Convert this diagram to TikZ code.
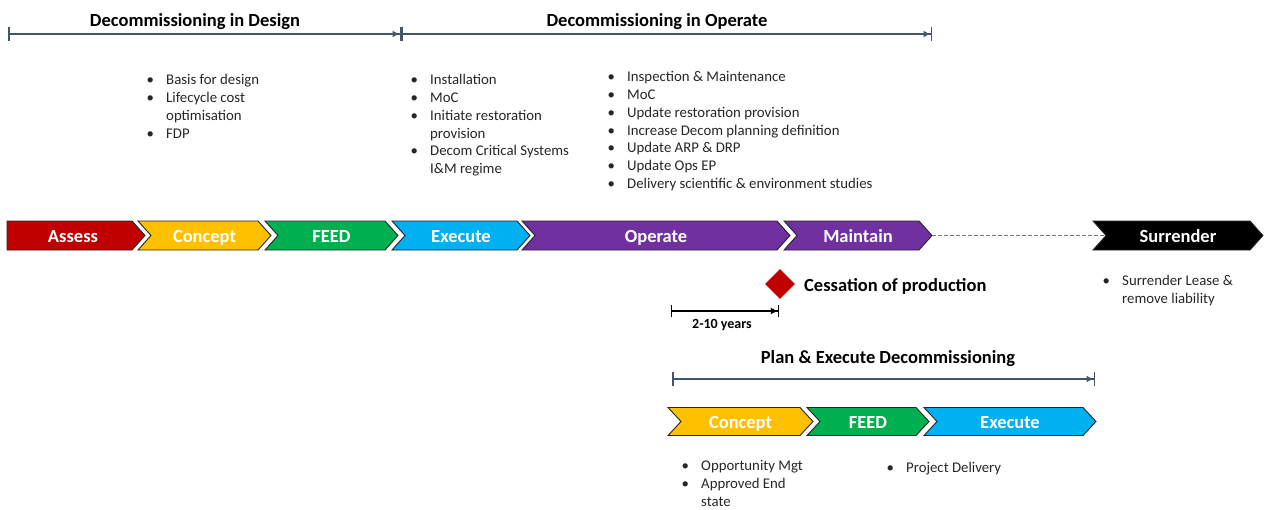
\documentclass[tikz,border=0pt]{standalone}
\usepackage{fontspec}
\setmainfont{Carlito}
\usetikzlibrary{arrows.meta,shapes.geometric}
\definecolor{cred}{HTML}{C00000}
\definecolor{cyel}{HTML}{FFC000}
\definecolor{cgrn}{HTML}{00B050}
\definecolor{cblu}{HTML}{00B0F0}
\definecolor{cpur}{HTML}{7030A0}
\definecolor{slate}{HTML}{44546A}
\definecolor{txt}{HTML}{262626}
\tikzset{
  chevtext/.style={anchor=base, inner sep=0pt, text=white, font=\fontsize{18.5}{20}\selectfont\bfseries},
  heading/.style={anchor=base, inner sep=0pt, text=black, font=\fontsize{18.5}{20}\selectfont\bfseries},
  blist/.style={anchor=base west, inner sep=0pt, text=txt, font=\fontsize{14.8}{17.8}\selectfont},
  spanarrow/.style={slate, line width=1.5pt, arrows={Bar[width=14pt,line width=1.5pt]-Latex[length=7pt,width=7pt] Bar[width=14pt,line width=1.5pt]}},
}
% name, left, tip, ycenter, colour, text, notch(0/1), half height
\newcommand\mychev[8]{%
  \fill[#5, draw=black!85, line width=0.9pt, line join=miter]
    ({#2},{#4-#8}) -- ({#3-13},{#4-#8}) -- ({#3},{#4}) -- ({#3-13},{#4+#8}) -- ({#2},{#4+#8}) -- ({#2+#7*13},{#4}) -- cycle;
  \coordinate (#1-tip) at ({#3},{#4});
  \coordinate (#1-notch) at ({#2+#7*13},{#4});
  \node[chevtext] (#1) at ({(#2+#3)/2-(1-#7)*3},{#4+7}) {#6};
}
\begin{document}
\begin{tikzpicture}[x=1pt,y=-1pt]
\useasboundingbox (0,0) rectangle (1264,509);

% top spans
\node[heading] (hdesign) at (195,26) {Decommissioning in Design};
\node[heading] (hoperate) at (657,26) {Decommissioning in Operate};
\coordinate (d0) at (8,34);
\coordinate (d1) at (401,34);
\coordinate (d2) at (932,34);
\draw[spanarrow] (d0) -- (d1);
\draw[spanarrow] (d1) -- (d2);

% bullet lists
\node[blist] (ldesign) at (146.3,84.7) {\begin{tabular}[t]{@{}p{19.7pt}@{}l@{}}
\textbullet & Basis for design\\
\textbullet & Lifecycle cost\\
 & optimisation\\
\textbullet & FDP
\end{tabular}};
\node[blist] (lexec) at (410.3,84.7) {\begin{tabular}[t]{@{}p{19.7pt}@{}l@{}}
\textbullet & Installation\\
\textbullet & MoC\\
\textbullet & Initiate restoration\\
 & provision\\
\textbullet & Decom Critical Systems\\
 & I\&M regime
\end{tabular}};
\node[blist] (lop) at (607.3,81.7) {\begin{tabular}[t]{@{}p{19.7pt}@{}l@{}}
\textbullet & Inspection \& Maintenance\\
\textbullet & MoC\\
\textbullet & Update restoration provision\\
\textbullet & Increase Decom planning definition\\
\textbullet & Update ARP \& DRP\\
\textbullet & Update Ops EP\\
\textbullet & Delivery scientific \& environment studies
\end{tabular}};

% main chevron row
\mychev{assess}{7}{145}{235.5}{cred}{Assess}{0}{14.5}
\mychev{concept}{138}{271}{235.5}{cyel}{Concept}{1}{14.5}
\mychev{feed}{265}{398}{235.5}{cgrn}{FEED}{1}{14.5}
\mychev{execute}{392}{530}{235.5}{cblu}{Execute}{1}{14.5}
\mychev{operate}{522}{790}{235.5}{cpur}{Operate}{1}{14.5}
\mychev{maintain}{784}{932}{235.5}{cpur}{Maintain}{1}{14.5}
\mychev{surrender}{1093}{1263}{235.5}{black}{Surrender}{1}{14.5}
\draw[gray!90!black, line width=1pt, dash pattern=on 4pt off 2pt] (maintain-tip) -- (surrender-notch);

\node[blist] (lsurr) at (1102.3,285.7) {\begin{tabular}[t]{@{}p{19.7pt}@{}l@{}}
\textbullet & Surrender Lease \&\\
 & remove liability
\end{tabular}};

% cessation
\node[diamond, fill=cred, minimum width=30pt, minimum height=30pt, inner sep=0pt] (cop) at (780,284) {};
\node[heading, anchor=base west] (coplabel) at (804,291) {Cessation of production};
\coordinate (y0) at (671,311);
\coordinate (y1) at (779,311);
\draw[black, line width=1.2pt, arrows={Bar[width=12pt,line width=1.2pt]-Latex[length=7pt,width=7pt] Bar[width=12pt,line width=1.2pt]}] (y0) -- (y1);
\node[anchor=base, inner sep=0pt, font=\fontsize{14}{16}\selectfont\bfseries] (years) at (722,328.5) {2-10 years};

% plan & execute
\node[heading] (hplan) at (888,363) {Plan \& Execute Decommissioning};
\coordinate (p0) at (672,379);
\coordinate (p1) at (1095,379);
\draw[spanarrow] (p0) -- (p1);

\mychev{bconcept}{668}{813}{421.5}{cyel}{Concept}{1}{14}
\mychev{bfeed}{807}{929}{421.5}{cgrn}{FEED}{1}{14}
\mychev{bexecute}{924}{1096}{421.5}{cblu}{Execute}{1}{14}

\node[blist] (lbconcept) at (681.3,470.7) {\begin{tabular}[t]{@{}p{19.7pt}@{}l@{}}
\textbullet & Opportunity Mgt\\
\textbullet & Approved End\\
 & state
\end{tabular}};
\node[blist] (lbfeed) at (886.3,472.7) {\begin{tabular}[t]{@{}p{19.7pt}@{}l@{}}
\textbullet & Project Delivery
\end{tabular}};
\end{tikzpicture}
\end{document}
